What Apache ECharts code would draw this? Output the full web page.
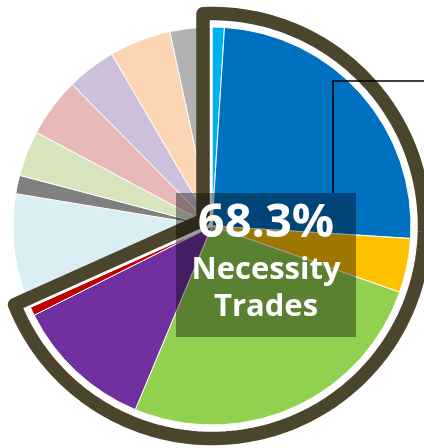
<!DOCTYPE html>
<html><head><meta charset="utf-8">
<script src="https://cdn.jsdelivr.net/npm/echarts@6/dist/echarts.min.js"></script>
<style>html,body{margin:0;padding:0;background:#fff}#c{width:424px;height:448px}</style>
</head><body><div id="c"></div>
<script>
// ---- data (percent shares) ----
const necessityNames = ['Necessity 1','Necessity 2','Necessity 3','Necessity 4','Necessity 5','Necessity 6'];
const necessityValues = [1.0, 25.0, 4.4, 25.9, 11.3, 0.7];
const otherNames = ['Other 1','Other 2','Other 3','Other 4','Other 5','Other 6','Other 7'];
const otherValues = [9.3, 1.5, 3.7, 4.8, 4.0, 5.0, 3.4];
const centerCaption = ['Necessity', 'Trades'];

// ---- styles ----
const palette = ['#00B0F0','#0070C0','#FFC000','#92D050','#7030A0','#C00000',
                 '#DAEEF3','#808080','#D8E4BC','#E6B8B7','#CCC0DA','#FCD5B4','#B2B2B2'];
const OLIVE = '#4A452C';
const CX = 212, CY = 226, R = 199;

const sum = a => a.reduce((s, v) => s + v, 0);
const names = necessityNames.concat(otherNames);
const values = necessityValues.concat(otherValues);
const total = sum(values);
const necSum = sum(necessityValues);
const th2 = necSum / total * 2 * Math.PI;

function offsetSectorPoints(t1, t2, d, r) {
  const u = t => [Math.sin(t), -Math.cos(t)];
  const n1 = u(t1 - Math.PI / 2), n2 = u(t2 + Math.PI / 2);
  const t = Math.sqrt(r * r - d * d);
  const u1 = u(t1), u2 = u(t2);
  const E1 = [CX + d * n1[0] + t * u1[0], CY + d * n1[1] + t * u1[1]];
  const E2 = [CX + d * n2[0] + t * u2[0], CY + d * n2[1] + t * u2[1]];
  const det = n1[0] * n2[1] - n1[1] * n2[0];
  const vx = (d * n2[1] - n1[1] * d) / det;
  const vy = (n1[0] * d - d * n2[0]) / det;
  const ang = P => Math.atan2(P[0] - CX, -(P[1] - CY));
  let a1 = ang(E1), a2 = ang(E2);
  while (a2 < a1) a2 += 2 * Math.PI;
  const pts = [[CX + vx, CY + vy], E1];
  const N = 160;
  for (let i = 1; i < N; i++) {
    const a = a1 + (a2 - a1) * i / N;
    pts.push([CX + r * Math.sin(a), CY - r * Math.cos(a)]);
  }
  pts.push(E2);
  return pts;
}

const chart = echarts.init(document.getElementById('c'), null, {renderer: 'canvas'});
chart.setOption({
  animation: false,
  backgroundColor: '#ffffff',
  series: [{
    type: 'pie',
    center: [CX, CY],
    radius: R,
    startAngle: 90,
    clockwise: true,
    label: {show: false},
    labelLine: {show: false},
    emphasis: {disabled: true},
    itemStyle: {borderColor: '#ffffff', borderWidth: 1},
    data: names.map((n, i) => ({name: n, value: values[i], itemStyle: {color: palette[i]}}))
  }],
  graphic: [
    {type: 'polygon', z: 10, shape: {points: offsetSectorPoints(0, th2, 3.5, 203)},
     style: {fill: null, stroke: '#ffffff', lineWidth: 7, lineJoin: 'round'}},
    {type: 'polygon', z: 11, shape: {points: offsetSectorPoints(0, th2, 9, 212.5)},
     style: {fill: null, stroke: OLIVE, lineWidth: 13.5, lineJoin: 'round'}},
    {type: 'polyline', z: 12, shape: {points: [[333, 193], [333, 81], [424, 81]]},
     style: {stroke: '#000000', lineWidth: 1.5, fill: null}},
    {type: 'rect', z: 20, shape: {x: 176, y: 193, width: 180, height: 144},
     style: {fill: 'rgba(0,0,0,0.38)'}},
    {type: 'text', z: 21, x: 266, y: 224,
     style: {text: necSum.toFixed(1) + '%', fill: '#ffffff', font: 'bold 47px "Open Sans"',
             align: 'center', verticalAlign: 'middle'}},
    {type: 'text', z: 21, x: 266, y: 270,
     style: {text: centerCaption[0], fill: '#ffffff', font: 'bold 31px "Open Sans"',
             align: 'center', verticalAlign: 'middle'}},
    {type: 'text', z: 21, x: 266, y: 307,
     style: {text: centerCaption[1], fill: '#ffffff', font: 'bold 31px "Open Sans"',
             align: 'center', verticalAlign: 'middle'}}
  ]
});
</script>
</body></html>
